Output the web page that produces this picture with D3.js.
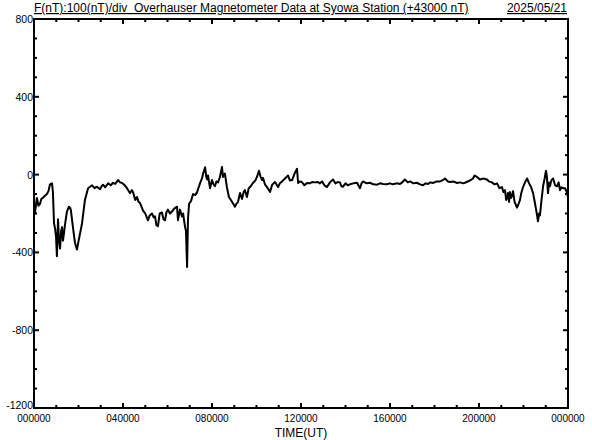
<!DOCTYPE html>
<html>
<head>
<meta charset="utf-8">
<script src="https://cdn.jsdelivr.net/npm/d3@7"></script>
<style>
  body { margin: 0; background: #fff; }
  svg { display: block; }
  text { font-family: "Liberation Sans", Arial, sans-serif; fill: #000; }
</style>
</head>
<body>
<svg id="chart" width="592" height="440"></svg>
<script>
// Syowa Station Overhauser magnetometer, F minus 43000 nT, 2025/05/21

// axis settings
const xTickHours = [0, 4, 8, 12, 16, 20, 24];
const xTickLabels = ["000000", "040000", "080000", "120000", "160000", "200000", "000000"];
const yTickValues = [800, 400, 0, -400, -800, -1200];
const yTickLabels = ["800", "400", "0", "-400", "-800", "-1200"];

// trace: hours (UT) and F offset (nT)
const hours = [
  0.00, 0.04, 0.13, 0.20, 0.27, 0.33, 0.40, 0.48, 0.58, 0.65, 0.72, 0.81, 0.85, 0.90, 0.95, 0.99,
  1.03, 1.08, 1.12, 1.17, 1.22, 1.26, 1.30, 1.35, 1.39, 1.48, 1.57, 1.62, 1.66, 1.75, 1.84, 1.93,
  1.98, 2.16, 2.29, 2.43, 2.61, 2.72, 2.83, 2.97, 3.05, 3.10, 3.20, 3.33, 3.45, 3.55, 3.65, 3.78,
  3.87, 3.96, 4.08, 4.18, 4.31, 4.40, 4.45, 4.55, 4.63, 4.70, 4.76, 4.85, 4.90, 5.00, 5.12, 5.20,
  5.30, 5.38, 5.44, 5.50, 5.57, 5.65, 5.75, 5.82, 5.89, 5.95, 6.02, 6.11, 6.20, 6.30, 6.43, 6.47,
  6.56, 6.65, 6.70, 6.79, 6.83, 6.88, 6.92, 6.97, 7.06, 7.15, 7.25, 7.33, 7.46, 7.55, 7.60, 7.69,
  7.74, 7.78, 7.82, 7.87, 7.91, 8.00, 8.07, 8.13, 8.20, 8.27, 8.35, 8.45, 8.49, 8.58, 8.67, 8.76,
  8.90, 9.03, 9.10, 9.17, 9.26, 9.35, 9.42, 9.48, 9.57, 9.65, 9.71, 9.84, 9.95, 10.02, 10.11, 10.18,
  10.25, 10.29, 10.38, 10.47, 10.61, 10.70, 10.83, 10.97, 11.05, 11.15, 11.28, 11.42, 11.50, 11.60, 11.73, 11.82,
  11.87, 11.95, 12.04, 12.15, 12.27, 12.40, 12.50, 12.63, 12.76, 12.85, 12.95, 13.05, 13.17, 13.30, 13.44, 13.55,
  13.65, 13.75, 13.82, 13.89, 14.00, 14.10, 14.20, 14.35, 14.52, 14.60, 14.65, 14.72, 14.79, 14.95, 15.10, 15.25,
  15.42, 15.55, 15.69, 15.85, 16.00, 16.13, 16.30, 16.45, 16.55, 16.67, 16.80, 16.90, 17.05, 17.21, 17.35, 17.48,
  17.60, 17.71, 17.82, 17.93, 18.10, 18.25, 18.35, 18.47, 18.60, 18.70, 18.85, 19.01, 19.15, 19.30, 19.45, 19.60,
  19.73, 19.80, 19.91, 20.04, 20.20, 20.36, 20.45, 20.58, 20.70, 20.81, 20.92, 21.03, 21.10, 21.17, 21.22, 21.26,
  21.30, 21.35, 21.39, 21.44, 21.48, 21.53, 21.60, 21.71, 21.78, 21.84, 21.90, 21.98, 22.07, 22.16, 22.25, 22.34,
  22.43, 22.52, 22.61, 22.65, 22.70, 22.74, 22.80, 22.88, 22.95, 23.01, 23.05, 23.10, 23.15, 23.19, 23.25, 23.33,
  23.42, 23.51, 23.58, 23.64, 23.70, 23.78, 23.87, 23.96, 24.00
];
const fValues = [
  -180, -200, -120, -160, -150, -125, -120, -110, -100, -85, -50, -45, -90, -250, -280, -320,
  -420, -230, -330, -380, -290, -270, -340, -300, -260, -190, -165, -170, -185, -270, -350, -385,
  -355, -250, -130, -70, -55, -70, -62, -75, -58, -52, -65, -45, -55, -42, -48, -28,
  -40, -43, -55, -70, -95, -80, -90, -130, -115, -140, -145, -170, -185, -200, -235, -210,
  -200, -220, -215, -260, -265, -200, -195, -230, -235, -195, -180, -200, -190, -175, -165, -235,
  -180, -215, -200, -270, -290, -475, -230, -150, -135, -100, -105, -90, -45, -20, 5, 38,
  -10, -25, -5, -40, -70, -28, -50, -60, -35, -40, -15, 39, -12, 5, -65, -115,
  -140, -165, -150, -140, -95, -125, -90, -80, -115, -70, -64, -43, -30, -12, 20, -10,
  -28, -17, -50, -64, -89, -53, -38, -64, -45, -35, -20, -5, -30, -28, 10, 30,
  -43, -35, -38, -55, -43, -45, -38, -40, -38, -45, -35, -55, -64, -40, -25, -45,
  -38, -40, -60, -62, -45, -55, -50, -45, -42, -60, -70, -45, -35, -45, -42, -50,
  -52, -45, -48, -50, -45, -50, -45, -48, -40, -25, -40, -35, -45, -42, -50, -55,
  -45, -48, -40, -43, -35, -35, -30, -20, -35, -38, -35, -43, -40, -45, -38, -30,
  -20, -5, -12, -25, -20, -25, -35, -40, -50, -45, -70, -64, -90, -80, -130, -120,
  -95, -140, -90, -120, -110, -85, -140, -170, -150, -131, -95, -64, -40, -20, -45, -64,
  -95, -150, -210, -240, -200, -210, -140, -60, -20, 20, -10, -95, -40, -60, -30, -20,
  -55, -60, -40, -80, -65, -70, -70, -95, -115
];

const svg = d3.select('#chart');
const plotLeft = 34, plotRight = 568, plotTop = 19, plotBottom = 408;

const x = d3.scaleLinear().domain([0, 24]).range([plotLeft, plotRight]);
const y = d3.scaleLinear().domain([-1200, 800]).range([plotBottom, plotTop]);

const points = hours.map((h, i) => [h, fValues[i]]);

// data trace
svg.append('path')
    .datum(points)
    .attr('fill', 'none')
    .attr('stroke', '#000')
    .attr('stroke-width', 2)
    .attr('stroke-linejoin', 'round')
    .attr('d', d3.line().x(d => x(d[0])).y(d => y(d[1])));

// frame
svg.append('rect')
    .attr('x', plotLeft).attr('y', plotTop)
    .attr('width', plotRight - plotLeft).attr('height', plotBottom - plotTop)
    .attr('fill', 'none')
    .attr('stroke', '#000')
    .attr('stroke-width', 2);

// hourly ticks top and bottom, longer every 4 hours
const hourTicks = d3.range(1, 24);
svg.selectAll('line.xt-top').data(hourTicks).enter().append('line')
    .attr('class', 'xt-top')
    .attr('x1', d => x(d)).attr('x2', d => x(d))
    .attr('y1', plotTop).attr('y2', d => plotTop + (d % 4 === 0 ? 5 : 3))
    .attr('stroke', '#000').attr('stroke-width', 2);
svg.selectAll('line.xt-bot').data(hourTicks).enter().append('line')
    .attr('class', 'xt-bot')
    .attr('x1', d => x(d)).attr('x2', d => x(d))
    .attr('y1', plotBottom).attr('y2', d => plotBottom - (d % 4 === 0 ? 5 : 3))
    .attr('stroke', '#000').attr('stroke-width', 2);

// 100 nT ticks left and right, longer every 400 nT
const nTicks = d3.range(-1100, 800, 100);
svg.selectAll('line.yt-left').data(nTicks).enter().append('line')
    .attr('class', 'yt-left')
    .attr('y1', d => y(d)).attr('y2', d => y(d))
    .attr('x1', plotLeft).attr('x2', d => plotLeft + (d % 400 === 0 ? 5 : 3))
    .attr('stroke', '#000').attr('stroke-width', 2);
svg.selectAll('line.yt-right').data(nTicks).enter().append('line')
    .attr('class', 'yt-right')
    .attr('y1', d => y(d)).attr('y2', d => y(d))
    .attr('x1', plotRight).attr('x2', d => plotRight - (d % 400 === 0 ? 5 : 3))
    .attr('stroke', '#000').attr('stroke-width', 2);

// tick labels
svg.selectAll('text.ylab').data(yTickValues).enter().append('text')
    .attr('class', 'ylab')
    .attr('x', plotLeft - 1)
    .attr('y', d => y(d) + (d === -1200 ? 1 : 4))
    .attr('text-anchor', 'end')
    .attr('font-size', 10.5)
    .text((d, i) => yTickLabels[i]);

svg.selectAll('text.xlab').data(xTickHours).enter().append('text')
    .attr('class', 'xlab')
    .attr('x', d => x(d))
    .attr('y', 422)
    .attr('text-anchor', 'middle')
    .attr('font-size', 10)
    .text((d, i) => xTickLabels[i]);

svg.append('text')
    .attr('x', x(12))
    .attr('y', 437)
    .attr('text-anchor', 'middle')
    .attr('font-size', 12)
    .text('TIME(UT)');

// title line
svg.append('text')
    .attr('x', plotLeft)
    .attr('y', 12)
    .attr('font-size', 12)
    .style('text-decoration', 'underline')
    .style('white-space', 'pre')
    .text('F(nT):100(nT)/div  Overhauser Magnetometer Data at Syowa Station (+43000 nT)');

svg.append('text')
    .attr('x', plotRight - 1)
    .attr('y', 12)
    .attr('text-anchor', 'end')
    .attr('font-size', 12)
    .style('text-decoration', 'underline')
    .text('2025/05/21');
</script>
</body>
</html>
